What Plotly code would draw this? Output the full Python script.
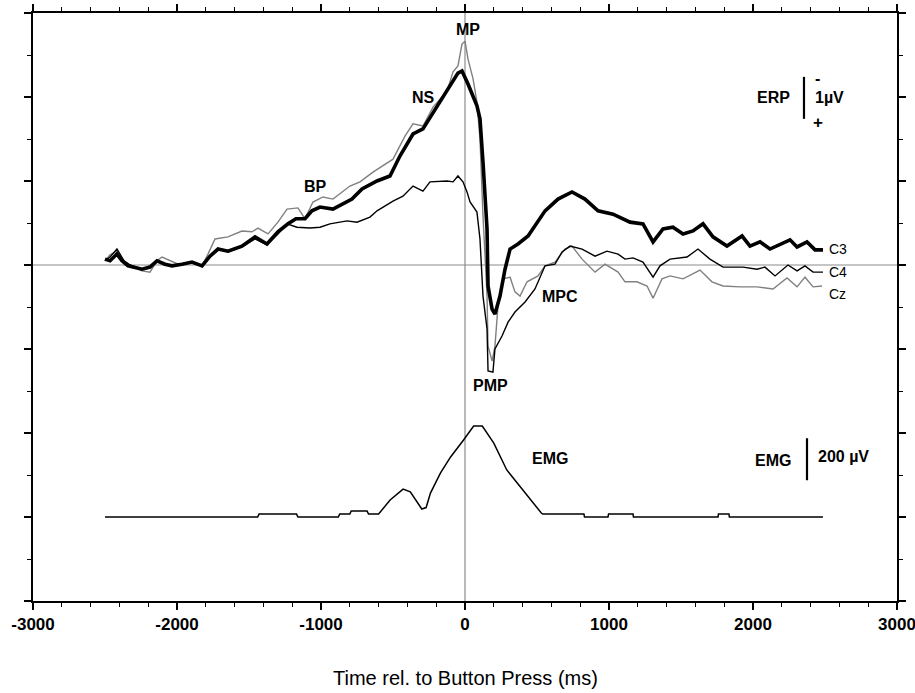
import plotly.graph_objects as go

# ---------------- data (time in ms, ERP in microvolts, EMG in microvolts) ----------------
t_c3 = [-2500, -2465, -2417, -2382, -2340, -2292, -2243, -2188, -2139, -2083, -2035, -1965, -1896, -1826,
        -1771, -1715, -1646, -1549, -1458, -1375, -1299, -1229, -1174, -1111, -1063, -1007, -917, -785,
        -715, -611, -521, -451, -361, -292, -194, -104, -49, -21, 21, 83, 104, 125, 153, 160, 188, 208,
        243, 278, 313, 368, 438, 556, 646, 743, 833, 924, 1028, 1146, 1236, 1306, 1375, 1444, 1514, 1583,
        1653, 1722, 1819, 1924, 1979, 2049, 2118, 2257, 2306, 2375, 2431, 2486]
c3 = [-0.14, -0.10, -0.26, -0.10, 0.02, 0.05, 0.10, 0.05, -0.10, -0.02, 0.02, -0.02, -0.07, 0.02,
      -0.21, -0.38, -0.33, -0.45, -0.67, -0.50, -0.79, -0.98, -1.10, -1.10, -1.29, -1.38, -1.33, -1.57,
      -1.81, -2.00, -2.12, -2.60, -3.12, -3.24, -3.79, -4.26, -4.57, -4.62, -4.31, -3.79, -3.48, -2.45,
      -0.86, 0.50, 1.05, 1.17, 0.74, 0.10, -0.38, -0.50, -0.69, -1.29, -1.57, -1.74, -1.57, -1.29, -1.21,
      -1.02, -0.98, -0.55, -0.86, -0.90, -0.74, -0.81, -0.98, -0.67, -0.45, -0.69, -0.45, -0.55, -0.38,
      -0.60, -0.43, -0.55, -0.36, -0.36]

t_c4 = [-2500, -2465, -2417, -2368, -2326, -2243, -2188, -2139, -2083, -2014, -1896, -1826, -1771, -1715,
        -1646, -1549, -1458, -1375, -1299, -1236, -1167, -1076, -1007, -938, -819, -750, -660, -611, -500,
        -431, -361, -292, -243, -125, -83, -49, -14, 14, 35, 83, 104, 125, 153, 160, 194, 208, 257, 299,
        347, 417, 486, 556, 625, 674, 729, 813, 903, 986, 1063, 1111, 1167, 1236, 1306, 1354, 1424, 1542,
        1618, 1701, 1792, 1931, 2028, 2083, 2153, 2243, 2306, 2361, 2417, 2486]
c4 = [-0.10, -0.19, -0.38, -0.10, 0.00, 0.10, 0.05, -0.10, 0.00, 0.00, -0.05, 0.02, -0.21, -0.38,
      -0.31, -0.43, -0.62, -0.48, -0.74, -0.98, -0.90, -0.88, -0.90, -0.98, -1.05, -1.02, -1.14, -1.29,
      -1.52, -1.64, -1.88, -1.76, -1.98, -2.00, -1.98, -2.12, -1.98, -1.74, -1.50, -1.26, -0.62, 0.74,
      1.52, 2.52, 2.55, 2.00, 1.69, 1.36, 1.12, 0.88, 0.57, 0.02, -0.02, -0.31, -0.45, -0.38, -0.21,
      -0.33, -0.26, -0.14, -0.17, -0.07, 0.29, 0.02, -0.14, -0.19, -0.38, -0.14, 0.05, 0.05, 0.10, 0.05,
      0.26, 0.00, 0.14, 0.02, 0.17, 0.17]

t_cz = [-2500, -2465, -2417, -2368, -2326, -2243, -2188, -2139, -2104, -2049, -1979, -1896, -1826, -1785,
        -1736, -1646, -1549, -1479, -1438, -1368, -1299, -1236, -1160, -1111, -1056, -986, -917, -799,
        -729, -639, -569, -500, -417, -361, -292, -222, -125, -83, -49, -21, 0, 21, 56, 83, 104, 125, 153,
        160, 188, 208, 229, 264, 313, 347, 382, 431, 507, 556, 625, 694, 743, 813, 903, 972, 1063, 1111,
        1194, 1264, 1306, 1368, 1424, 1514, 1632, 1715, 1792, 1910, 2028, 2139, 2236, 2306, 2361, 2417, 2479]
cz = [-0.10, -0.24, -0.33, -0.10, 0.00, 0.14, 0.17, -0.10, -0.19, -0.10, 0.00, -0.05, 0.02, -0.26,
      -0.62, -0.67, -0.81, -0.79, -0.88, -0.74, -1.02, -1.33, -1.36, -1.10, -1.50, -1.62, -1.57, -1.88,
      -1.98, -2.21, -2.36, -2.52, -3.07, -3.36, -3.31, -3.76, -4.14, -4.60, -4.74, -5.26, -5.33, -4.90,
      -4.43, -3.88, -3.00, -1.17, 0.74, 1.93, 2.29, 1.93, 0.98, 0.33, 0.29, 0.64, 0.74, 0.40, 0.26, 0.02,
      -0.07, -0.38, -0.45, -0.14, 0.17, -0.02, 0.17, 0.40, 0.40, 0.50, 0.79, 0.33, 0.26, 0.33, 0.12, 0.40,
      0.50, 0.52, 0.52, 0.57, 0.31, 0.52, 0.29, 0.52, 0.50]

t_emg = [-2500, -1440, -1430, -1170, -1160, -880, -870, -800, -790, -680, -670, -600, -520, -430, -380,
         -330, -300, -270, -240, -170, -100, -10, 60, 120, 200, 290, 400, 530, 540, 826, 830, 993, 997,
         1167, 1170, 1757, 1760, 1833, 1836, 2486]
emg = [0, 0, 14, 14, 0, 0, 14, 14, 29, 29, 14, 14, 81, 133, 120, 70, 38, 45, 114, 210, 286, 367, 433,
       433, 352, 224, 129, 19, 14, 14, 0, 0, 14, 14, 0, 0, 14, 14, 0, 0]

x_tick_vals = [-3000, -2000, -1000, 0, 1000, 2000, 3000]
x_tick_text = ["-3000", "-2000", "-1000", "0", "1000", "2000", "3000"]
x_title = "Time rel. to Button Press (ms)"

# labels: (text, time ms, value µV)
component_labels = [("MP", 20, -5.6), ("NS", -285, -4.0), ("BP", -1040, -1.86),
                    ("PMP", 180, 2.88), ("MPC", 660, 0.74)]
channel_labels = [("C3", 2590, -0.38), ("C4", 2590, 0.17), ("Cz", 2590, 0.69)]

FONT = "Liberation Sans, Arial, Helvetica, sans-serif"

fig = go.Figure()
fig.add_trace(go.Scatter(x=t_cz, y=cz, mode="lines", line=dict(color="#808080", width=1.4),
                         name="Cz", showlegend=False))
fig.add_trace(go.Scatter(x=t_c4, y=c4, mode="lines", line=dict(color="black", width=1.4),
                         name="C4", showlegend=False))
fig.add_trace(go.Scatter(x=t_c3, y=c3, mode="lines", line=dict(color="black", width=3.6),
                         name="C3", showlegend=False))
fig.add_trace(go.Scatter(x=t_emg, y=emg, mode="lines", line=dict(color="black", width=1.5),
                         name="EMG", yaxis="y2", showlegend=False))

# zero lines
fig.add_shape(type="line", xref="x", yref="paper", x0=0, x1=0, y0=0, y1=1,
              line=dict(color="#8c8c8c", width=1.2), layer="below")
fig.add_shape(type="line", xref="paper", yref="y", x0=0, x1=1, y0=0, y1=0,
              line=dict(color="#8c8c8c", width=1.2), layer="below")

# scale bars
fig.add_shape(type="line", xref="x", yref="y", x0=2354, x1=2354, y0=-4.48, y1=-3.48,
              line=dict(color="black", width=2.2))
fig.add_shape(type="line", xref="x", yref="y2", x0=2375, x1=2375, y0=175, y1=375,
              line=dict(color="black", width=2.2))

ann = []
for txt, xx, yy in component_labels:
    ann.append(dict(text=txt, x=xx, y=yy, xref="x", yref="y", showarrow=False,
                    font=dict(family=FONT, size=16, color="black", weight="bold")))
for txt, xx, yy in channel_labels:
    ann.append(dict(text=txt, x=xx, y=yy, xref="x", yref="y", showarrow=False,
                    font=dict(family=FONT, size=14, color="black")))
ann.append(dict(text="EMG", x=590, y=280, xref="x", yref="y2", showarrow=False,
                font=dict(family=FONT, size=16, color="black", weight="bold")))
# ERP scale legend
ann.append(dict(text="ERP", x=2140, y=-3.98, xref="x", yref="y", showarrow=False,
                font=dict(family=FONT, size=16, color="black", weight="bold")))
ann.append(dict(text="-", x=2451, y=-4.45, xref="x", yref="y", showarrow=False,
                font=dict(family=FONT, size=16, color="black", weight="bold")))
ann.append(dict(text="1µV", x=2420, y=-3.98, xref="x", yref="y", showarrow=False, xanchor="left",
                font=dict(family=FONT, size=16, color="black", weight="bold")))
ann.append(dict(text="+", x=2451, y=-3.4, xref="x", yref="y", showarrow=False,
                font=dict(family=FONT, size=17, color="black", weight="bold")))
# EMG scale legend
ann.append(dict(text="EMG", x=2140, y=270, xref="x", yref="y2", showarrow=False,
                font=dict(family=FONT, size=16, color="black", weight="bold")))
ann.append(dict(text="200 µV", x=2440, y=290, xref="x", yref="y2", showarrow=False, xanchor="left",
                font=dict(family=FONT, size=16, color="black", weight="bold")))
# axis title
ann.append(dict(text=x_title, x=0.5, y=-0.131, xref="paper", yref="paper", showarrow=False,
                yanchor="middle", font=dict(family=FONT, size=20, color="black")))

fig.update_layout(
    width=915, height=693,
    margin=dict(l=33, r=18, t=13, b=92),
    plot_bgcolor="white", paper_bgcolor="white",
    showlegend=False,
    annotations=ann,
    xaxis=dict(range=[-3000, 3000], tickvals=x_tick_vals, ticktext=x_tick_text, automargin=False,
               ticklabeloverflow="allow",
               ticks="outside", ticklen=7, tickwidth=1.5, tickcolor="black",
               minor=dict(dtick=200, ticks="outside", ticklen=4, tickwidth=1.2, tickcolor="black"),
               showline=True, linewidth=2, linecolor="black", mirror="ticks",
               showgrid=False, zeroline=False,
               tickfont=dict(family=FONT, size=17, color="black", weight="bold")),
    yaxis=dict(range=[8, -6], dtick=2, tick0=0, showticklabels=False, automargin=False,
               ticks="outside", ticklen=7, tickwidth=1.5, tickcolor="black",
               minor=dict(dtick=1, ticks="outside", ticklen=4, tickwidth=1.2, tickcolor="black"),
               showline=True, linewidth=2, linecolor="black", mirror="ticks",
               showgrid=False, zeroline=False),
    yaxis2=dict(range=[-400, 2400], overlaying="y", visible=False),
)

fig.write_html("out.html")
